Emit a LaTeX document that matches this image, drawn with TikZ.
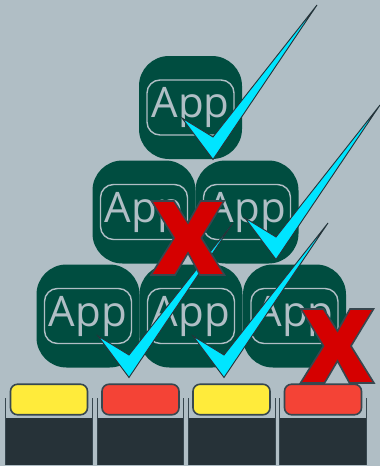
\documentclass[tikz,border=0pt]{standalone}
\usepackage{fontspec}
\setmainfont{Open Sans}
\definecolor{bgc}{HTML}{B0BEC5}
\definecolor{appc}{HTML}{004D40}
\definecolor{darkc}{HTML}{263238}
\definecolor{edgec}{HTML}{37474F}
\definecolor{cyanc}{HTML}{00E5FF}
\definecolor{redx}{HTML}{D50000}
\definecolor{yel}{HTML}{FFEB3B}
\definecolor{redb}{HTML}{F44336}
\tikzset{
 appbox/.style={rectangle,rounded corners=30pt,fill=appc,minimum width=103pt,minimum height=103pt,inner sep=0pt},
 appin/.style={rectangle,rounded corners=13pt,draw=bgc,line width=1.4pt,minimum width=87pt,minimum height=55pt,inner sep=0pt,text=bgc,font=\fontsize{42}{42}\selectfont},
 led/.style={rectangle,rounded corners=7pt,draw=edgec,line width=1.6pt,minimum width=77pt,minimum height=30.5pt,inner sep=0pt},
 binfill/.style={rectangle,fill=darkc,minimum width=86pt,minimum height=47pt,inner sep=0pt},
 binwall/.style={draw=edgec,line width=1.3pt},
 tick/.style={fill=cyanc,draw=darkc,line width=.9pt,miter limit=20},
 cross/.style={fill=redx,draw=edgec,line width=1.6pt,line join=miter}
}
\newcommand{\appicon}[3]{\node[appbox] (#1) at (#2,#3) {}; \node[appin] (#1t) at (#2,#3) {App};}
\newcommand{\tickmark}[2]{\draw[tick,shift={(#1,#2)}] (317,5) -- (213,137) -- (182,118) -- (213,159.5) -- cycle;}
\newcommand{\crossmark}[2]{\draw[cross,shift={(#1,#2)}] (151.5,201) -- (174,201) -- (188,223) -- (200.5,201) -- (224,201) -- (201.5,238) -- (224.5,275) -- (200,275) -- (188,253) -- (175,275) -- (151,275) -- (174,238) -- cycle;}
\newcommand{\bin}[2]{\node[binfill] (#1) at (#2,441.5) {};
 \draw[binwall] (#1.south west) -- ++(0,-67) (#1.south east) -- ++(0,-67);}
\begin{document}
\begin{tikzpicture}[x=1pt,y=-1pt]
\useasboundingbox (0,0) rectangle (380,466);
\fill[bgc] (0,0) rectangle (380,466);
\appicon{a}{190.5}{107.5}
\appicon{b}{144}{212}
\appicon{c}{247}{212}
\appicon{d}{88}{316}
\appicon{e}{191}{316}
\appicon{f}{294.5}{316}
\tickmark{0}{0}
\tickmark{63}{100}
\tickmark{-84}{218}
\tickmark{11}{218}
\crossmark{0}{0}
\crossmark{149.5}{108}
\bin{g}{49}
\bin{h}{140.5}
\bin{i}{232}
\bin{j}{323}
\node[led,fill=yel] (k) at (49,399.5) {};
\node[led,fill=redb] (l) at (140.5,399.5) {};
\node[led,fill=yel] (m) at (231.5,399.5) {};
\node[led,fill=redb] (n) at (323,399.5) {};
\end{tikzpicture}
\end{document}
